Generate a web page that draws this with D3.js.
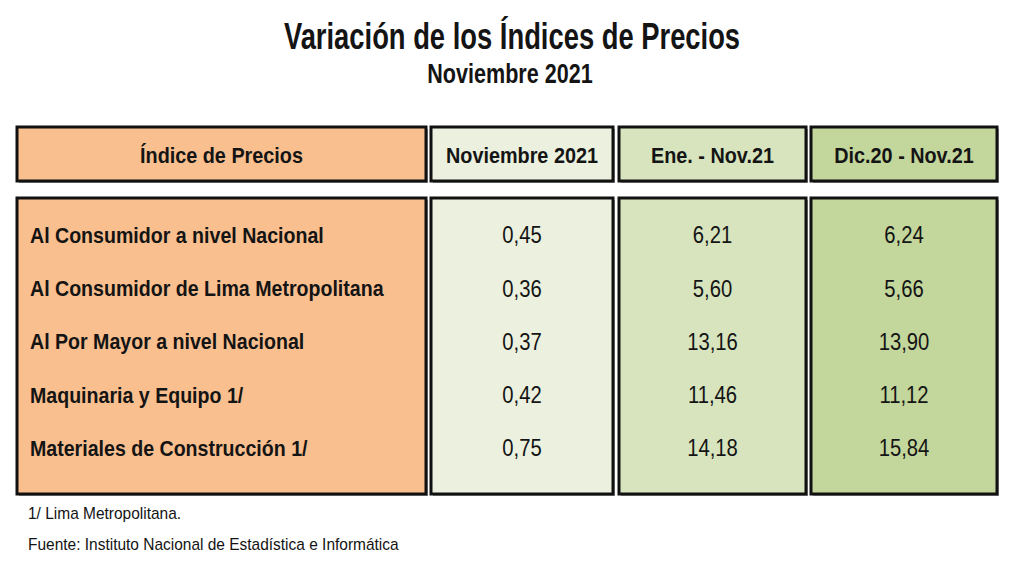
<!DOCTYPE html>
<html>
<head>
<meta charset="utf-8">
<script src="https://cdn.jsdelivr.net/npm/d3@7"></script>
<style>
  body { margin: 0; background: #fff; }
  svg text { font-family: "Liberation Sans", Arial, sans-serif; fill: #141414; }
</style>
</head>
<body>
<svg id="chart" width="1024" height="577"></svg>
<script>
// data
const title = "Variación de los Índices de Precios";
const subtitle = "Noviembre 2021";
const columns = ["Índice de Precios", "Noviembre 2021", "Ene. - Nov.21", "Dic.20 - Nov.21"];
const categories = [
    "Al Consumidor a nivel Nacional",
    "Al Consumidor de Lima Metropolitana",
    "Al Por Mayor a nivel Nacional",
    "Maquinaria y Equipo 1/",
    "Materiales de Construcción 1/"
];
const nov2021 = [0.45, 0.36, 0.37, 0.42, 0.75];
const eneNov21 = [6.21, 5.60, 13.16, 11.46, 14.18];
const dic20Nov21 = [6.24, 5.66, 13.90, 11.12, 15.84];
const notes = ["1/ Lima Metropolitana.", "Fuente: Instituto Nacional de Estadística e Informática"];

// layout
const colLeft = [17, 431, 619, 811];
const colRight = [426, 613, 806, 997];
const colFill = ["#f9bf8f", "#ebf1de", "#d7e4bd", "#c3d69b"];
const head = { top: 127, bottom: 181 };
const body = { top: 198, bottom: 494 };

const svg = d3.select("#chart");
const fmt = v => d3.format(".2f")(v).replace(".", ",");

// no narrow font installed: squeeze the glyphs instead
function narrow(sel, k) {
    sel.each(function () {
        const w = this.getComputedTextLength();
        d3.select(this).attr("textLength", w * k).attr("lengthAdjust", "spacingAndGlyphs");
    });
}

const xCol = d3.scaleOrdinal().domain(columns).range(colLeft);
const xEnd = d3.scaleOrdinal().domain(columns).range(colRight);
const fill = d3.scaleOrdinal().domain(columns).range(colFill);
const y = d3.scalePoint().domain(categories).range([235, 448]);

svg.append("text").attr("x", 512).attr("y", 49)
    .attr("text-anchor", "middle").attr("font-size", 36).attr("font-weight", "bold")
    .text(title).call(narrow, 0.76);
svg.append("text").attr("x", 510).attr("y", 83)
    .attr("text-anchor", "middle").attr("font-size", 28).attr("font-weight", "bold")
    .text(subtitle).call(narrow, 0.77);

function boxes(top, bottom) {
    const g = svg.append("g");
    g.selectAll("rect.shadow").data(columns).join("rect")
        .attr("class", "shadow")
        .attr("x", d => xCol(d) + 2).attr("y", top + 2)
        .attr("width", d => xEnd(d) - xCol(d)).attr("height", bottom - top)
        .attr("fill", "#a0a0a0");
    g.selectAll("rect.box").data(columns).join("rect")
        .attr("class", "box")
        .attr("x", d => xCol(d)).attr("y", top)
        .attr("width", d => xEnd(d) - xCol(d)).attr("height", bottom - top)
        .attr("fill", d => fill(d))
        .attr("stroke", "#111").attr("stroke-width", 3);
    return g;
}

const hg = boxes(head.top, head.bottom);
hg.selectAll("text").data(columns).join("text")
    .attr("x", d => (xCol(d) + xEnd(d)) / 2)
    .attr("y", (head.top + head.bottom) / 2 + 1)
    .attr("dy", "0.36em")
    .attr("text-anchor", "middle").attr("font-size", 22).attr("font-weight", "bold")
    .text(d => d).call(narrow, 0.9);

const bg = boxes(body.top, body.bottom);
bg.selectAll("text.label").data(categories).join("text")
    .attr("class", "label")
    .attr("x", 30).attr("y", d => y(d)).attr("dy", "0.36em")
    .attr("font-size", 22).attr("font-weight", "bold")
    .text(d => d).call(narrow, 0.89);

const series = [nov2021, eneNov21, dic20Nov21];
series.forEach((vals, i) => {
    const c = columns[i + 1];
    bg.selectAll("text.v" + i).data(vals).join("text")
        .attr("class", "v" + i)
        .attr("x", (xCol(c) + xEnd(c)) / 2)
        .attr("y", (d, j) => y(categories[j])).attr("dy", "0.36em")
        .attr("text-anchor", "middle").attr("font-size", 23)
        .text(d => fmt(d)).call(narrow, 0.88);
});

svg.selectAll("text.note").data(notes).join("text")
    .attr("class", "note")
    .attr("x", 28).attr("y", (d, i) => 513 + i * 31).attr("dy", "0.36em")
    .attr("font-size", 17)
    .text(d => d).call(narrow, 0.91);
</script>
</body>
</html>
